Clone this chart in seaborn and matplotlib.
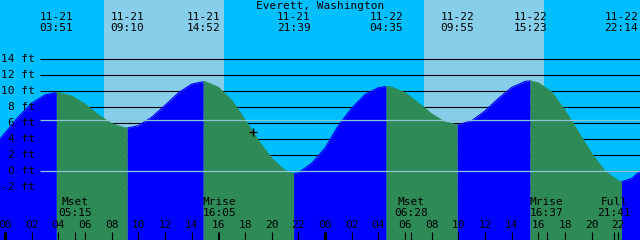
import numpy as np
import pandas as pd
import matplotlib
matplotlib.use("Agg")
import matplotlib.pyplot as plt
import seaborn as sns

# ---------------- data ----------------
title = "Everett, Washington"

# tide extremes, hours counted from 11-21 00:00
extreme_dates = ["11-21", "11-21", "11-21", "11-21", "11-22", "11-22", "11-22", "11-22"]
extreme_times = ["03:51", "09:10", "14:52", "21:39", "04:35", "09:55", "15:23", "22:14"]
extreme_hours = [3.85, 9.167, 14.867, 21.65, 28.583, 33.917, 39.383, 46.233]
extreme_heights = [9.85, 5.4, 11.2, -0.3, 10.6, 5.8, 11.3, -1.3]
extreme_kind = ["high", "low", "high", "low", "high", "low", "high", "low"]

# hourly tide heights (ft), hours -1 .. 48
hourly_hours = list(range(-1, 49))
hourly_heights = [2.8, 4.8, 6.8, 8.5, 9.55, 9.84, 9.4, 8.4, 7.05, 5.95,
                  5.42, 5.7, 6.75, 8.25, 9.8, 10.9, 11.19, 10.5, 8.85, 6.45,
                  3.85, 1.6, 0.1, -0.2, 1.0, 2.9, 5.7, 7.9, 9.6, 10.45,
                  10.53, 9.8, 8.55, 7.17, 6.14, 5.8, 6.32, 7.55, 9.1, 10.48,
                  11.23, 11.05, 9.9, 7.6, 4.9, 2.2, 0.0, -1.2, -0.9, 0.6]

# moon events
moon_labels = ["Mset", "Mrise", "Mset", "Mrise", "Full"]
moon_times = ["05:15", "16:05", "06:28", "16:37", "21:41"]
moon_hours = [5.25, 16.083, 30.467, 40.617, 45.683]

# daylight (sunrise -> sunset)
day_start = [7.43, 31.43]
day_end = [16.43, 40.43]

depth_levels = [14, 12, 10, 8, 6, 4, 2, 0, -2]
depth_labels = ["14 ft", "12 ft", "10 ft", "8 ft", "6 ft", "4 ft", "2 ft", "0 ft", "-2 ft"]
msl_level = 6.4
datum_level = 0

hour_ticks = list(range(0, 48, 2))
hour_tick_labels = ["00", "02", "04", "06", "08", "10", "12", "14", "16", "18", "20", "22",
                    "00", "02", "04", "06", "08", "10", "12", "14", "16", "18", "20", "22"]
midnight_ticks = [0, 24]

now_hour = 18.62
now_height = 4.85

# ---------------- layout ----------------
X0, X1 = -0.375, 47.625
Y0, Y1 = -8.59, 21.41
C_NIGHT = "#00BFFF"
C_DAY = "#87CEEB"
C_RISE = "#0000FF"
C_FALL = "#2E8B57"
C_MARK = "#8CC6D6"
FONT = "DejaVu Sans Mono"
FS = 8

sns.set_theme(style="white")
plt.rcParams["font.family"] = [FONT, "DejaVu Sans"]

fig = plt.figure(figsize=(6.4, 2.4), dpi=100)
ax = fig.add_axes([0, 0, 1, 1])
ax.add_patch(plt.Rectangle((X0, Y0), X1 - X0, Y1 - Y0, color=C_NIGHT, zorder=0, lw=0))
for s, e in zip(day_start, day_end):
    ax.axvspan(s, e, color=C_DAY, lw=0, zorder=0.5)

# depth grid lines (behind the water)
ax.hlines(depth_levels, 2.625, X1, color="black", lw=0.8, zorder=1)

# build tide series with segments split at extremes
pts = pd.DataFrame({"t": hourly_hours + extreme_hours,
                    "h": hourly_heights + extreme_heights}).sort_values("t").reset_index(drop=True)
bounds = [-np.inf] + extreme_hours + [np.inf]
rows = []
for i in range(len(bounds) - 1):
    a, b = bounds[i], bounds[i + 1]
    seg = pts[(pts.t >= a) & (pts.t <= b)].copy()
    if i == 0:
        phase = "rising"
    else:
        phase = "falling" if extreme_kind[i - 1] == "high" else "rising"
    seg["phase"] = phase
    seg["seg"] = i
    rows.append(seg)
tide = pd.concat(rows, ignore_index=True)

palette = {"rising": C_RISE, "falling": C_FALL}
for i, seg in tide.groupby("seg"):
    ax.fill_between(seg.t, Y0, seg.h, color=palette[seg.phase.iloc[0]], lw=0, zorder=2)
sns.lineplot(data=tide, x="t", y="h", hue="phase", units="seg", estimator=None,
             palette=palette, legend=False, lw=0.8, ax=ax, zorder=2.5)
ax.set_xlim(X0, X1)
ax.set_ylim(Y0, Y1)
ax.axis("off")

# MSL and datum lines
ax.hlines([msl_level, datum_level], 2.625, X1, color=C_MARK, lw=0.9, zorder=3)

# depth labels
for lvl, lab in zip(depth_levels, depth_labels):
    ax.text(2.25, lvl, lab, ha="right", va="center", fontsize=FS, color="black", zorder=5)

# title and extreme labels
ax.text(23.625, 20.66, title, ha="center", va="center", fontsize=FS, color="black", zorder=5)
for t, d, tm in zip(extreme_hours, extreme_dates, extreme_times):
    ax.text(t, 19.29, d, ha="center", va="center", fontsize=FS, color="black", zorder=5)
    ax.text(t, 17.91, tm, ha="center", va="center", fontsize=FS, color="black", zorder=5)

# moon events
for t, lab, tm in zip(moon_hours, moon_labels, moon_times):
    ax.text(t, -3.84, lab, ha="center", va="center", fontsize=FS, color="black", zorder=5)
    ax.text(t, -5.21, tm, ha="center", va="center", fontsize=FS, color="black", zorder=5)

# hour axis
for t, lab in zip(hour_ticks, hour_tick_labels):
    ax.text(t, -6.71, lab, ha="center", va="center", fontsize=FS, color="black", zorder=5)
ax.vlines(hour_ticks, Y0, -7.59, color="black", lw=0.8, zorder=5)
ax.vlines(moon_hours, Y0, -7.59, color="black", lw=0.8, zorder=5)
ax.vlines(midnight_ticks, Y0, -7.59, color="black", lw=2.2, zorder=5)

# current time marker
ax.plot([now_hour], [now_height], marker="+", ms=6, mew=1, color="black", zorder=6)

fig.savefig("out.png", dpi=100)
